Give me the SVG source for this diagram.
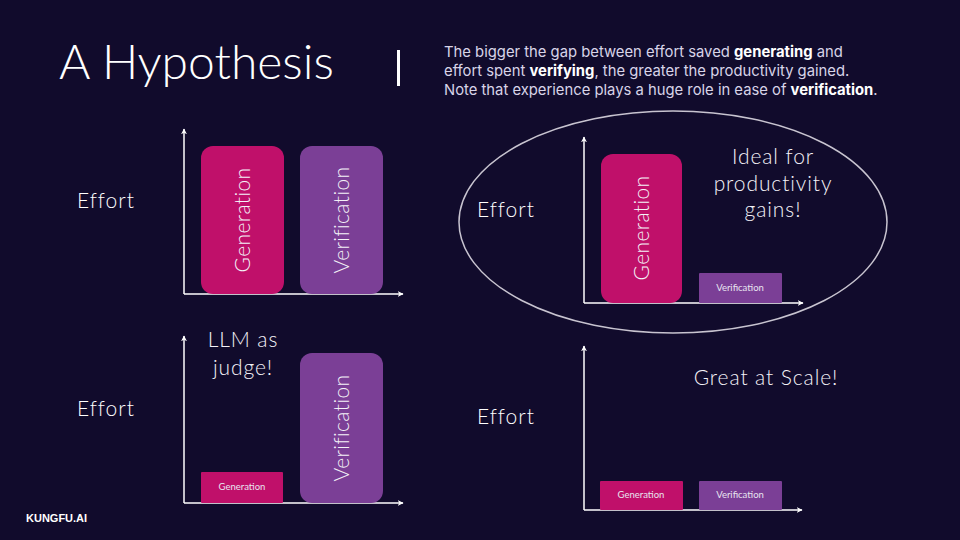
<svg xmlns="http://www.w3.org/2000/svg" width="960" height="540" viewBox="0 0 960 540">
<defs>
<marker id="arr" viewBox="0 0 10 10" refX="9" refY="5" markerWidth="6" markerHeight="6" markerUnits="userSpaceOnUse" orient="auto">
<path d="M0,0 L10,5 L0,10 L3,5 Z" fill="#ffffff"/>
</marker>
<style>
.bg{fill:#110b2c}
.axis{stroke:#ffffff;stroke-width:1.5;fill:none}
.gen{fill:#c0106a}
.ver{fill:#7b3f96}
.lbl{font-family:Lato,"Liberation Sans",sans-serif;font-weight:300;fill:#ffffff;font-size:21px;letter-spacing:1px}
.big{font-family:Lato,"Liberation Sans",sans-serif;font-weight:300;fill:#f4f2f8;font-size:21px;letter-spacing:0.9px}
.bar{font-family:Lato,"Liberation Sans",sans-serif;font-weight:300;fill:#f4f2f8;font-size:21px;letter-spacing:0.4px}
.sm{font-family:Lato,"Liberation Sans",sans-serif;fill:#e8e4f0;font-size:9.5px}
.para{font-family:Inter,"Liberation Sans",sans-serif;fill:#d8d4e8;font-size:14.8px}
.para tspan.b{font-weight:700;fill:#ffffff}
</style>
</defs>
<rect class="bg" x="0" y="0" width="960" height="540"/>
<g id="title">
<text x="59" y="79" font-family="Lato,'Liberation Sans',sans-serif" font-weight="300" font-size="48" fill="#ffffff">A Hypothesis</text>
<rect x="397" y="50" width="3" height="36" fill="#ffffff"/>
</g>
<g id="description">
<text class="para" x="444" y="57">The bigger the gap between effort saved <tspan class="b">generating</tspan> and</text>
<text class="para" x="444" y="76">effort spent <tspan class="b">verifying</tspan>, the greater the productivity gained.</text>
<text class="para" x="444" y="95">Note that experience plays a huge role in ease of <tspan class="b">verification</tspan>.</text>
</g>
<g id="connectors">
<line class="axis" x1="184" y1="294" x2="184" y2="129" marker-end="url(#arr)"/>
<line class="axis" x1="184" y1="294" x2="403" y2="294" marker-end="url(#arr)"/>
<line class="axis" x1="584" y1="303" x2="584" y2="137" marker-end="url(#arr)"/>
<line class="axis" x1="584" y1="303" x2="803" y2="303" marker-end="url(#arr)"/>
<line class="axis" x1="184" y1="503" x2="184" y2="336" marker-end="url(#arr)"/>
<line class="axis" x1="184" y1="503" x2="403" y2="503" marker-end="url(#arr)"/>
<line class="axis" x1="584" y1="510" x2="584" y2="346" marker-end="url(#arr)"/>
<line class="axis" x1="584" y1="510" x2="802" y2="510" marker-end="url(#arr)"/>
</g>
<g id="chart-top-left">
<text class="lbl" x="77" y="208">Effort</text>
<rect class="gen" x="201" y="146" width="83" height="148" rx="12"/>
<text class="bar" transform="translate(250,220) rotate(-90)" text-anchor="middle">Generation</text>
<rect class="ver" x="300" y="146" width="83" height="148" rx="12"/>
<text class="bar" transform="translate(349,220) rotate(-90)" text-anchor="middle">Verification</text>
</g>
<g id="chart-top-right">
<ellipse cx="673" cy="222" rx="214" ry="111" fill="none" stroke="#c8c4d0" stroke-width="1.5"/>
<text class="lbl" x="477" y="217">Effort</text>
<rect class="gen" x="601" y="154" width="81" height="149" rx="12"/>
<text class="bar" transform="translate(649,228) rotate(-90)" text-anchor="middle">Generation</text>
<rect class="ver" x="699" y="273" width="83" height="30" rx="1"/>
<text class="sm" x="740" y="291" text-anchor="middle">Verification</text>
<text class="big" x="773" y="164" text-anchor="middle">Ideal for</text>
<text class="big" x="773" y="191" text-anchor="middle">productivity</text>
<text class="big" x="773" y="217" text-anchor="middle">gains!</text>
</g>
<g id="chart-bottom-left">
<text class="lbl" x="77" y="416">Effort</text>
<rect class="gen" x="201" y="472" width="82" height="31" rx="1"/>
<text class="sm" x="242" y="490" text-anchor="middle">Generation</text>
<rect class="ver" x="300" y="353" width="83" height="150" rx="12"/>
<text class="bar" transform="translate(349,428) rotate(-90)" text-anchor="middle">Verification</text>
<text class="big" x="243" y="347" text-anchor="middle">LLM as</text>
<text class="big" x="243" y="375" text-anchor="middle">judge!</text>
</g>
<g id="chart-bottom-right">
<text class="lbl" x="477" y="424">Effort</text>
<rect class="gen" x="600" y="481" width="83" height="29" rx="1"/>
<text class="sm" x="641" y="498" text-anchor="middle">Generation</text>
<rect class="ver" x="699" y="481" width="83" height="29" rx="1"/>
<text class="sm" x="740" y="498" text-anchor="middle">Verification</text>
<text class="big" x="766" y="385" text-anchor="middle">Great at Scale!</text>
</g>
<g id="logo">
<text x="26" y="522" font-family="'Liberation Sans',Arial,sans-serif" font-weight="700" font-size="11" fill="#ffffff">KUNGFU.AI</text>
</g>
</svg>
